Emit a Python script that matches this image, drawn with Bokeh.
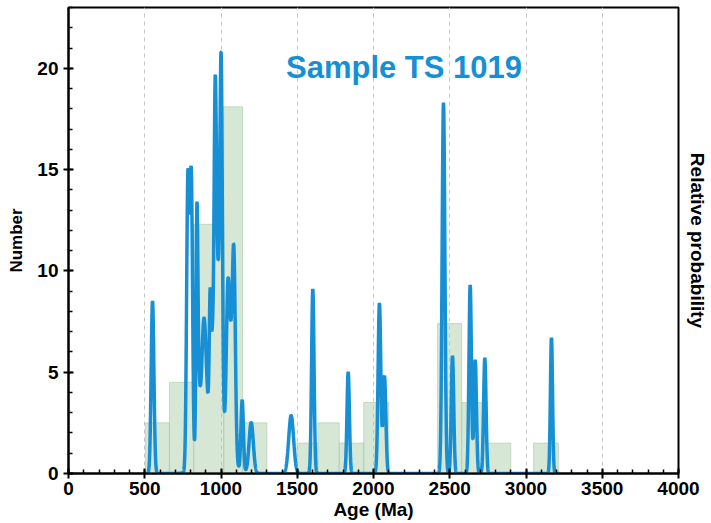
import numpy as np
from bokeh.plotting import figure
from bokeh.models import (Range1d, LinearAxis, FixedTicker, SingleIntervalTicker, Label)
from bokeh.embed import file_html
from bokeh.resources import INLINE

# ---- histogram (Number) ----
bin_left = [505, 662, 821, 1018, 1141, 1498, 1635, 1775, 1936, 2420, 2578, 2745, 3050]
bin_right = [662, 821, 1018, 1141, 1301, 1635, 1775, 1936, 2100, 2578, 2745, 2900, 3212]
bin_count = [2.5, 4.5, 12.3, 18.1, 2.5, 1.5, 2.5, 1.5, 3.5, 7.4, 3.5, 1.5, 1.5]

# ---- probability-density peaks (age Ma, height, spread Ma) ----
peak_age = [551, 783, 805, 842, 851, 888, 929, 943, 962, 981, 1001, 1045, 1063, 1084,
            1139, 1198, 960, 1460, 1602, 1834, 2039, 2072, 2459, 2518, 2634, 2667, 2730, 3167]
peak_height = [8.5, 14.3, 14.3, 10.2, 3.5, 5.9, 6.1, 3.0, 15.6, 6.0, 17.4, 7.3, 4.0, 10.2,
               3.5, 2.5, 3.0, 2.86, 9.1, 5.0, 8.4, 4.8, 18.3, 5.8, 9.3, 5.6, 5.7, 6.7]
peak_sigma = [9, 8.6, 8.6, 6, 10, 15, 6, 6, 8, 10, 8, 10, 10, 10,
              8, 14, 70, 16, 8, 8, 9, 9, 9, 8, 8, 8, 8, 7]

x_ticks = [0, 500, 1000, 1500, 2000, 2500, 3000, 3500, 4000]
y_ticks = [0, 5, 10, 15, 20]

BLUE = "#178fd5"
FONT = "Liberation Sans"

ages = np.linspace(500, 3220, 5441)
dens = np.zeros_like(ages)
for a, h, s in zip(peak_age, peak_height, peak_sigma):
    dens += h * np.exp(-(ages - a) ** 2 / (2.0 * s * s))

p = figure(width=711, height=523, output_backend="svg", toolbar_location=None,
           x_range=Range1d(0, 4000), y_range=Range1d(0, 23),
           min_border_left=68, min_border_right=33, min_border_top=7, min_border_bottom=50)
p.background_fill_color = "white"
p.border_fill_color = "white"
p.outline_line_color = "black"
p.outline_line_width = 2
p.outline_line_alpha = 1

p.quad(left=bin_left, right=bin_right, bottom=0, top=bin_count,
       fill_color="#b5d6b2", fill_alpha=0.55, line_color="#a9c9a7", line_alpha=0.6, line_width=1)
p.line(ages, dens, line_color=BLUE, line_width=3.5)

# axes
xa = p.xaxis[0]
xa.ticker = FixedTicker(ticks=x_ticks, minor_ticks=list(range(0, 4001, 100)))
xa.axis_label = "Age (Ma)"
ya = p.yaxis[0]
ya.ticker = FixedTicker(ticks=y_ticks, minor_ticks=list(range(0, 24)))
ya.axis_label = "Number"
for ax in (xa, ya):
    ax.axis_line_width = 2
    ax.axis_line_color = "black"
    ax.major_tick_line_width = 2
    ax.minor_tick_line_width = 1.5
    ax.major_tick_in = 5
    ax.major_tick_out = 5
    ax.minor_tick_in = 4
    ax.minor_tick_out = 0
    ax.major_label_text_font = FONT
    ax.major_label_text_font_style = "bold"
    ax.major_label_text_font_size = "19px"
    ax.major_label_text_color = "black"
    ax.axis_label_text_font = FONT
    ax.axis_label_text_font_style = "bold"
    ax.axis_label_text_color = "black"
xa.axis_label_text_font_size = "19px"
ya.axis_label_text_font_size = "17px"
xa.major_label_standoff = 3
xa.axis_label_standoff = 1
ya.major_label_standoff = 5
ya.axis_label_standoff = 8

ra = LinearAxis(ticker=FixedTicker(ticks=[]), axis_label="Relative probability",
                axis_line_color=None, major_tick_line_color=None, minor_tick_line_color=None,
                major_label_text_font_size="0px", axis_label_standoff=8,
                axis_label_text_font=FONT, axis_label_text_font_style="bold",
                axis_label_text_font_size="19px", axis_label_text_color="black")
p.add_layout(ra, "right")

p.xgrid.ticker = FixedTicker(ticks=x_ticks[1:-1])
p.xgrid.grid_line_color = "#c4c4c4"
p.xgrid.grid_line_dash = "4 4"
p.xgrid.grid_line_width = 1
p.ygrid.grid_line_color = None

title = Label(x=2200, y=20.05, text="Sample TS 1019", text_align="center",
              text_baseline="alphabetic", text_font=FONT, text_font_style="bold",
              text_font_size="31px", text_color=BLUE)
p.add_layout(title)

open("out.html", "w").write(file_html(p, INLINE))
